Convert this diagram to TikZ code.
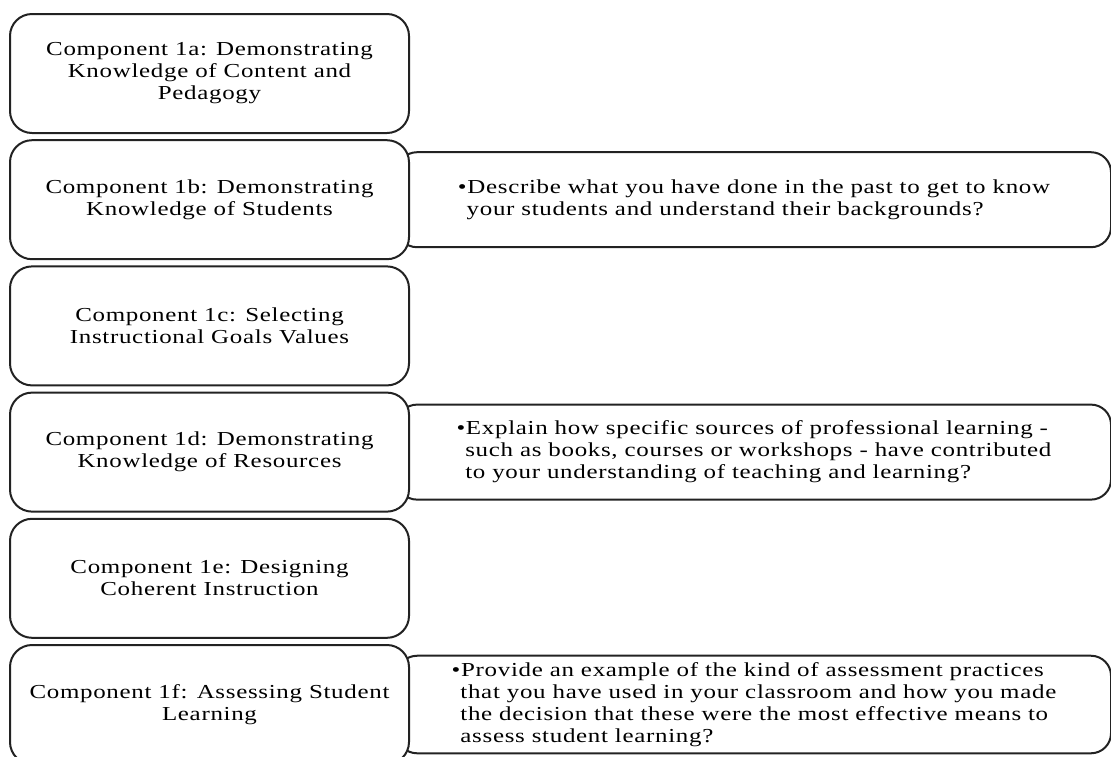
\documentclass[tikz,border=0pt]{standalone}
\usepackage{fontspec}
\setmainfont{Liberation Serif}[FakeStretch=1.26, LetterSpace=3.5]
\usetikzlibrary{positioning,backgrounds}
\definecolor{cmpline}{RGB}{34,34,34}
\tikzstyle{component} = [rectangle, rounded corners=11pt, minimum width=199.5pt, minimum height=59.5pt, text centered, align=center, draw=cmpline, fill=white, line width=1pt]
\tikzstyle{question} = [rectangle, rounded corners=10pt, minimum width=357pt, minimum height=47.5pt, align=left, draw=cmpline, fill=white, line width=1pt]

\begin{document}
\begin{tikzpicture}[x=0.5pt, y=-0.5pt, node distance=63.1pt, font=\fontsize{9.9pt}{11pt}\selectfont]
\useasboundingbox (0,0) rectangle (1111,756);
% Components
\node (c1a) [component] at (209.5,73.5) {Component 1a: Demonstrating\\Knowledge of Content and\\Pedagogy};
\node (c1b) [component, below of=c1a] {Component 1b: Demonstrating\\Knowledge of Students};
\node (c1c) [component, below of=c1b] {Component 1c: Selecting\\Instructional Goals Values};
\node (c1d) [component, below of=c1c] {Component 1d: Demonstrating\\Knowledge of Resources};
\node (c1e) [component, below of=c1d] {Component 1e: Designing\\Coherent Instruction};
\node (c1f) [component, below of=c1e] {Component 1f: Assessing Student\\Learning};

% Questions (behind the components)
\begin{pgfonlayer}{background}
\node (q1b) [question, right=-7pt of c1b] {\textbullet Describe what you have done in the past to get to know\\\phantom{\textbullet}your students and understand their backgrounds?};
\node (q1d) [question, right=-7pt of c1d] {\textbullet Explain how specific sources of professional learning -\\\phantom{\textbullet}such as books, courses or workshops - have contributed\\\phantom{\textbullet}to your understanding of teaching and learning?};
\node (q1f) [question, right=-7pt of c1f] {\textbullet Provide an example of the kind of assessment practices\\\phantom{\textbullet}that you have used in your classroom and how you made\\\phantom{\textbullet}the decision that these were the most effective means to\\\phantom{\textbullet}assess student learning?};
\end{pgfonlayer}
\end{tikzpicture}
\end{document}
